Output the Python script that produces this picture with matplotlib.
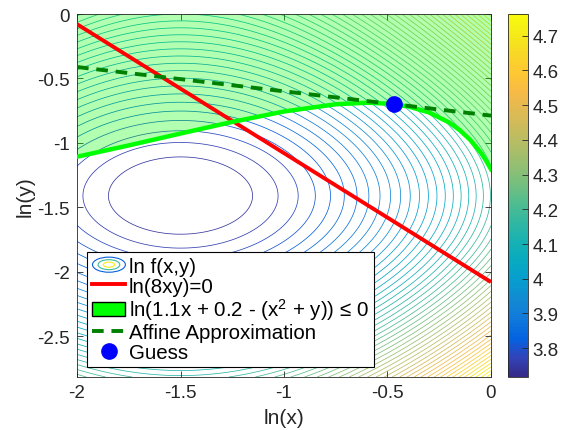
import numpy as np
import matplotlib
matplotlib.use('Agg')
import matplotlib.pyplot as plt
import matplotlib.cm as cm
from matplotlib.colors import LinearSegmentedColormap, Normalize
from matplotlib.legend_handler import HandlerBase
from matplotlib.patches import Ellipse, Patch
from matplotlib.lines import Line2D

plt.rcParams['font.family'] = ['Liberation Sans', 'DejaVu Sans']
plt.rcParams['mathtext.fontset'] = 'custom'
plt.rcParams['mathtext.rm'] = 'Liberation Sans'
plt.rcParams['mathtext.it'] = 'Liberation Sans'
plt.rcParams['axes.unicode_minus'] = False

# ---------------- data ----------------
x_ticks = [-2, -1.5, -1, -0.5, 0]
x_ticklabels = ['-2', '-1.5', '-1', '-0.5', '0']
y_ticks = [-2.5, -2, -1.5, -1, -0.5, 0]
y_ticklabels = ['-2.5', '-2', '-1.5', '-1', '-0.5', '0']
cbar_ticks = [3.8, 3.9, 4.0, 4.1, 4.2, 4.3, 4.4, 4.5, 4.6, 4.7]
cbar_ticklabels = ['3.8', '3.9', '4', '4.1', '4.2', '4.3', '4.4', '4.5', '4.6', '4.7']
x_limits = [-2.0, 0.0]
y_limits = [-2.815, 0.0]

# ln(8xy)=0 line
red_u = [-2.0, 0.0]
red_v = [-0.079, -2.079]

# boundary of the green region
bound_u = [-2.0, -1.75, -1.5, -1.25, -1.0, -0.75, -0.6, -0.5, -0.4, -0.3,
           -0.2, -0.15, -0.1, -0.05, -0.025, 0.0]
bound_v = [-1.107, -1.019, -0.927, -0.837, -0.756, -0.700, -0.688, -0.695,
           -0.717, -0.763, -0.843, -0.902, -0.977, -1.074, -1.134, -1.204]

# affine approximation (dashed)
affine_u = [-2.0, 0.0]
affine_v = [-0.411, -0.788]

# guess point
guess_u = [-0.47]
guess_v = [-0.70]

# contour field ln f(x,y): parameters estimated from contour positions/colours
center_u, center_v = -1.5, -1.41
lnf_min = 3.717
curv_u = 0.203
v_scale, v_k, v_skew = 0.56, 1.0, 0.0125
cross_uv = 0.0334
n_levels = 50
level_offset = 1.2   # first contour sits ~1.2 level-steps above the minimum

legend_labels = ['ln f(x,y)', 'ln(8xy)=0',
                 'ln(1.1x + 0.2 - (x$^{2}$ + y)) \u2264 0',
                 'Affine Approximation', 'Guess']

# ---------------- parula colormap ----------------
parula_anchors = [
    [0.2081, 0.1663, 0.5292], [0.1959, 0.2645, 0.7279], [0.0116, 0.3875, 0.8820],
    [0.0629, 0.4737, 0.8554], [0.0749, 0.5375, 0.8263], [0.0265, 0.6137, 0.8135],
    [0.0267, 0.6642, 0.7607], [0.0843, 0.6928, 0.7062], [0.1801, 0.7177, 0.6424],
    [0.3022, 0.7376, 0.5712], [0.4420, 0.7481, 0.5033], [0.5709, 0.7485, 0.4494],
    [0.6834, 0.7435, 0.4044], [0.7858, 0.7356, 0.3633], [0.8824, 0.7274, 0.3217],
    [0.9739, 0.7314, 0.2666], [0.9955, 0.7861, 0.1967], [0.9697, 0.8481, 0.1475],
    [0.9598, 0.9218, 0.0948], [0.9763, 0.9831, 0.0538]]
parula = LinearSegmentedColormap.from_list('parula', parula_anchors, N=256)

# ---------------- field ----------------
uu = np.linspace(x_limits[0], x_limits[1], 401)
vv = np.linspace(y_limits[0], y_limits[1], 401)
U, V = np.meshgrid(uu, vv)
du = U - center_u
dv = V - center_v
Z = (lnf_min + curv_u * du**2
     + v_scale * (np.sqrt(1 + (v_k * dv)**2) - 1) - v_skew * dv**3
     + cross_uv * du**2 * dv**2)
zmin, zmax = Z.min(), Z.max()
norm = Normalize(vmin=zmin, vmax=zmax)
step = (zmax - zmin) / (n_levels + 1)
levels = zmin + (np.arange(n_levels) + level_offset) * step
levels = levels[levels < zmax]

# ---------------- figure ----------------
W, H = 566, 431
fig = plt.figure(figsize=(W / 100, H / 100), dpi=100)
ax = fig.add_axes([77 / W, 1 - 378 / H, 414 / W, 363 / H])
cax = fig.add_axes([508 / W, 1 - 378 / H, 19.5 / W, 363 / H])

ax.contour(U, V, Z, levels=levels, cmap=parula, norm=norm, linewidths=0.55, zorder=1)
ax.fill(list(bound_u) + [x_limits[1], x_limits[0]],
        list(bound_v) + [y_limits[1], y_limits[1]],
        color=(0, 1, 0), alpha=0.3, lw=0, zorder=2)
ax.plot(red_u, red_v, color=(1, 0, 0), lw=2.8, zorder=3, solid_capstyle='butt')
ax.plot(bound_u, bound_v, color=(0, 1, 0), lw=3.2, zorder=3)
ax.plot(affine_u, affine_v, color=(0, 0.5, 0), lw=2.8, dashes=(3, 2), zorder=4)
ax.plot(guess_u, guess_v, 'o', color=(0, 0, 1), ms=11, zorder=5)

ax.set_xlim(x_limits)
ax.set_ylim(y_limits)
ax.set_xticks(x_ticks)
ax.set_xticklabels(x_ticklabels)
ax.set_yticks(y_ticks)
ax.set_yticklabels(y_ticklabels)
ax.tick_params(direction='in', top=True, right=True, length=4, width=0.6,
               labelsize=13.5, pad=5, colors='#262626')
for s in ax.spines.values():
    s.set_linewidth(0.6)
    s.set_color('#262626')
ax.set_xlabel('ln(x)', fontsize=15, labelpad=5, color='#262626')
ax.set_ylabel('ln(y)', fontsize=15, labelpad=2, color='#262626')


class ContourKey:
    pass


class HandlerEllipses(HandlerBase):
    def create_artists(self, legend, orig_handle, xdescent, ydescent,
                       width, height, fontsize, trans):
        cx = width / 2 - xdescent
        cy = height / 2 - ydescent
        arts = []
        for f, c in zip([1.0, 0.66, 0.34], [parula(0.1), parula(0.45), parula(0.95)]):
            arts.append(Ellipse((cx, cy), width * f, height * 1.05 * f, fill=False,
                                edgecolor=c, lw=0.8, transform=trans))
        return arts


handles = [ContourKey(),
           Line2D([], [], color=(1, 0, 0), lw=2.8),
           Patch(facecolor=(0, 1, 0), edgecolor='black', lw=1),
           Line2D([], [], color=(0, 0.5, 0), lw=2.8, dashes=(3, 2)),
           Line2D([], [], marker='o', ls='none', color=(0, 0, 1), ms=11)]
leg = ax.legend(handles, legend_labels, handler_map={ContourKey: HandlerEllipses()},
                loc='lower left', bbox_to_anchor=(0.025, 0.027), borderaxespad=0,
                fontsize=14.8, labelspacing=0.04, handlelength=1.6, handletextpad=0.16,
                borderpad=0.25, fancybox=False, framealpha=1, edgecolor='black')
leg.get_frame().set_linewidth(0.8)
leg.set_zorder(10)

sm = cm.ScalarMappable(norm=norm, cmap=parula)
cb = fig.colorbar(sm, cax=cax, ticks=cbar_ticks)
cb.set_ticklabels(cbar_ticklabels)
cb.ax.tick_params(direction='in', labelsize=13.5, length=4, width=0.6, colors='#262626')
cb.outline.set_linewidth(0.6)
cb.outline.set_edgecolor('#262626')

fig.savefig('out.png', dpi=100)
